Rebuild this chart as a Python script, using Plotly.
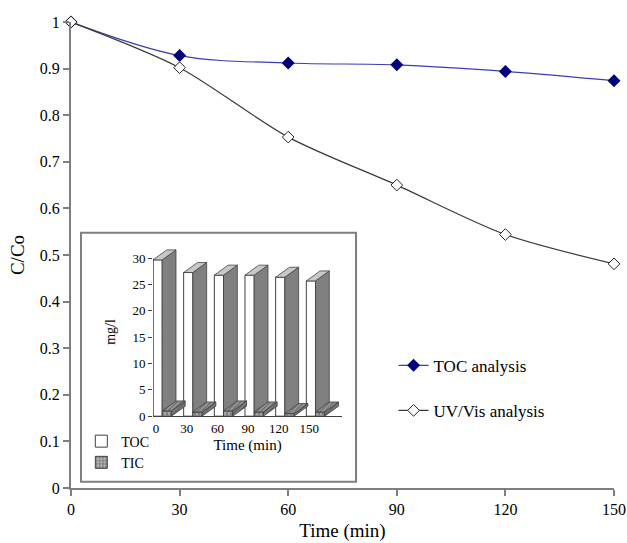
import plotly.graph_objects as go

# ---------------- data ----------------
time_min = [0, 30, 60, 90, 120, 150]
toc_ratio = [1.0, 0.928, 0.912, 0.908, 0.894, 0.874]
uv_ratio = [1.0, 0.902, 0.753, 0.650, 0.544, 0.481]

inset_labels = ["0", "30", "60", "90", "120", "150"]
toc_mg = [29.7, 27.3, 26.8, 26.8, 26.4, 25.7]
tic_mg = [1.0, 0.8, 1.0, 0.8, 0.5, 0.8]

# ---------------- styling / geometry ----------------
FONT = "Liberation Serif"
AX = "#7f7f7f"
EDGE = "#404040"
BAR_W = 0.3    # front face width (category units)
DX = 0.45      # 3D depth, x (category units)
DY = 1.9       # 3D depth, y (mg/l units)
X2_MIN, X2_MAX = -0.3, 5.87
Y2_MAX = 32
pos = list(range(len(toc_mg)))


def f(size):
    return dict(family=FONT, size=size, color="black")


fig = go.Figure()

# ---------------- main chart ----------------
fig.add_trace(go.Scatter(
    x=time_min, y=toc_ratio, name="TOC analysis", mode="lines+markers",
    line=dict(color="#3c3cb4", width=1.2, shape="spline", smoothing=1),
    marker=dict(symbol="diamond", size=10, color="#00007a"),
    cliponaxis=False, legendgroup="toc"))
fig.add_trace(go.Scatter(
    x=time_min, y=uv_ratio, name="UV/Vis analysis", mode="lines+markers",
    line=dict(color="#3a3a3a", width=1.2, shape="spline", smoothing=0.8),
    marker=dict(symbol="diamond", size=9, color="white",
                line=dict(color="#222222", width=1)),
    cliponaxis=False, legendgroup="uv"))


# ---------------- inset 3D-style bars ----------------
def poly(points_list):
    xs, ys = [], []
    for pts in points_list:
        for (a, b) in pts:
            xs.append(a); ys.append(b)
        xs.append(pts[0][0]); ys.append(pts[0][1])
        xs.append(None); ys.append(None)
    return xs, ys


# front faces (bars)
fig.add_trace(go.Bar(
    x=pos, y=toc_mg, width=BAR_W, offset=-BAR_W, base=0,
    xaxis="x2", yaxis="y2", name="TOC", legend="legend2",
    marker=dict(color="white", line=dict(color=EDGE, width=1))))
fig.add_trace(go.Bar(
    x=pos, y=tic_mg, width=BAR_W, offset=0, base=0,
    xaxis="x2", yaxis="y2", name="TIC", legend="legend2",
    marker=dict(color="#a0a0a0", line=dict(color=EDGE, width=1),
                pattern=dict(shape=".", fgcolor="#444444", bgcolor="#b0b0b0",
                             size=4, solidity=0.4))))

# TOC side faces (part above the TIC front face)
toc_side = []
for i, (t, c) in enumerate(zip(toc_mg, tic_mg)):
    xr = i
    toc_side.append([(xr, c), (xr, t), (xr + DX, t + DY), (xr + DX, DY),
                     (xr + c * DX / DY, c)])
sx, sy = poly(toc_side)
fig.add_trace(go.Scatter(x=sx, y=sy, xaxis="x2", yaxis="y2", mode="lines",
                         fill="toself", fillcolor="#808080",
                         line=dict(color=EDGE, width=0.8),
                         showlegend=False, hoverinfo="skip"))
# TOC top faces
toc_top = []
for i, t in enumerate(toc_mg):
    xl = i - BAR_W
    toc_top.append([(xl, t), (i, t), (i + DX, t + DY), (xl + DX, t + DY)])
tx, ty = poly(toc_top)
fig.add_trace(go.Scatter(x=tx, y=ty, xaxis="x2", yaxis="y2", mode="lines",
                         fill="toself", fillcolor="#c8c8c8",
                         line=dict(color=EDGE, width=0.8),
                         showlegend=False, hoverinfo="skip"))
# TIC side faces
tic_side = []
for i, c in enumerate(tic_mg):
    xr = i + BAR_W
    tic_side.append([(xr, 0), (xr, c), (xr + DX, c + DY), (xr + DX, DY)])
cx, cy = poly(tic_side)
fig.add_trace(go.Scatter(x=cx, y=cy, xaxis="x2", yaxis="y2", mode="lines",
                         fill="toself", fillcolor="#6a6a6a",
                         fillpattern=dict(shape="/", fgcolor="#333333",
                                          bgcolor="#808080", size=3, solidity=0.4),
                         line=dict(color=EDGE, width=0.8),
                         showlegend=False, hoverinfo="skip"))
# TIC top faces
tic_top = []
for i, c in enumerate(tic_mg):
    tic_top.append([(i, c), (i + BAR_W, c), (i + BAR_W + DX, c + DY), (i + DX, c + DY)])
ux, uy = poly(tic_top)
fig.add_trace(go.Scatter(x=ux, y=uy, xaxis="x2", yaxis="y2", mode="lines",
                         fill="toself", fillcolor="#7a7a7a",
                         fillpattern=dict(shape="/", fgcolor="#333333",
                                          bgcolor="#9a9a9a", size=3, solidity=0.4),
                         line=dict(color=EDGE, width=0.8),
                         showlegend=False, hoverinfo="skip"))

# ---------------- layout ----------------
fig.update_layout(
    width=627, height=543,
    margin=dict(l=71, r=13, t=22, b=55, autoexpand=False),
    paper_bgcolor="white", plot_bgcolor="rgba(0,0,0,0)",
    font=f(16),
    barmode="overlay",
    xaxis=dict(domain=[0, 1], range=[0, 150], tickvals=time_min,
               ticks="outside", ticklen=6, tickwidth=1.5, tickcolor=AX,
               showline=True, linecolor=AX, linewidth=2, automargin=False,
               showgrid=False, zeroline=False, tickfont=f(16),
               ticklabeloverflow="allow",
               title=dict(text="Time (min)", font=f(19), standoff=6)),
    yaxis=dict(range=[0, 1], dtick=0.1, tick0=0,
               ticks="outside", ticklen=6, tickwidth=1.5, tickcolor=AX,
               showline=True, linecolor=AX, linewidth=2, automargin=False,
               showgrid=False, zeroline=False, tickfont=f(16),
               title=dict(text="C/Co", font=f(19), standoff=10)),
    xaxis2=dict(domain=[0.151, 0.4994], anchor="y2", range=[X2_MIN, X2_MAX],
                tickvals=[p - 0.2 for p in pos], ticktext=inset_labels,
                ticks="", showline=True, linecolor=EDGE, linewidth=1,
                showgrid=False, zeroline=False, tickfont=f(13), automargin=False,
                title=dict(text="Time (min)", font=f(15), standoff=4)),
    yaxis2=dict(domain=[0.1541, 0.5155], anchor="x2", range=[0, Y2_MAX],
                tickvals=[0, 5, 10, 15, 20, 25, 30],
                ticks="outside", ticklen=4, tickcolor=EDGE, tickwidth=1,
                showline=False, showgrid=False, zeroline=False, automargin=False,
                tickfont=f(13),
                title=dict(text="mg/l", font=f(14), standoff=13)),
    legend=dict(x=0.594, y=0.301, xanchor="left", yanchor="top",
                bgcolor="rgba(0,0,0,0)", font=f(17),
                traceorder="grouped", tracegroupgap=20),
    legend2=dict(x=0.019, y=0.134, xanchor="left", yanchor="top",
                 bgcolor="rgba(0,0,0,0)", font=f(14),
                 itemwidth=30, tracegroupgap=0),
    shapes=[
        dict(type="rect", xref="paper", yref="paper",
             x0=0.0184, x1=0.5249, y0=0.0135, y1=0.548,
             line=dict(color=AX, width=2), fillcolor="white", layer="below"),
        dict(type="line", xref="x2", yref="y2",
             x0=X2_MIN, x1=X2_MIN, y0=0, y1=30,
             line=dict(color=EDGE, width=1), layer="above"),
    ],
)

fig.write_html(
    "out.html",
    config={"displayModeBar": False},
    post_script="document.body.style.margin='0';document.body.style.overflow='hidden';",
)
